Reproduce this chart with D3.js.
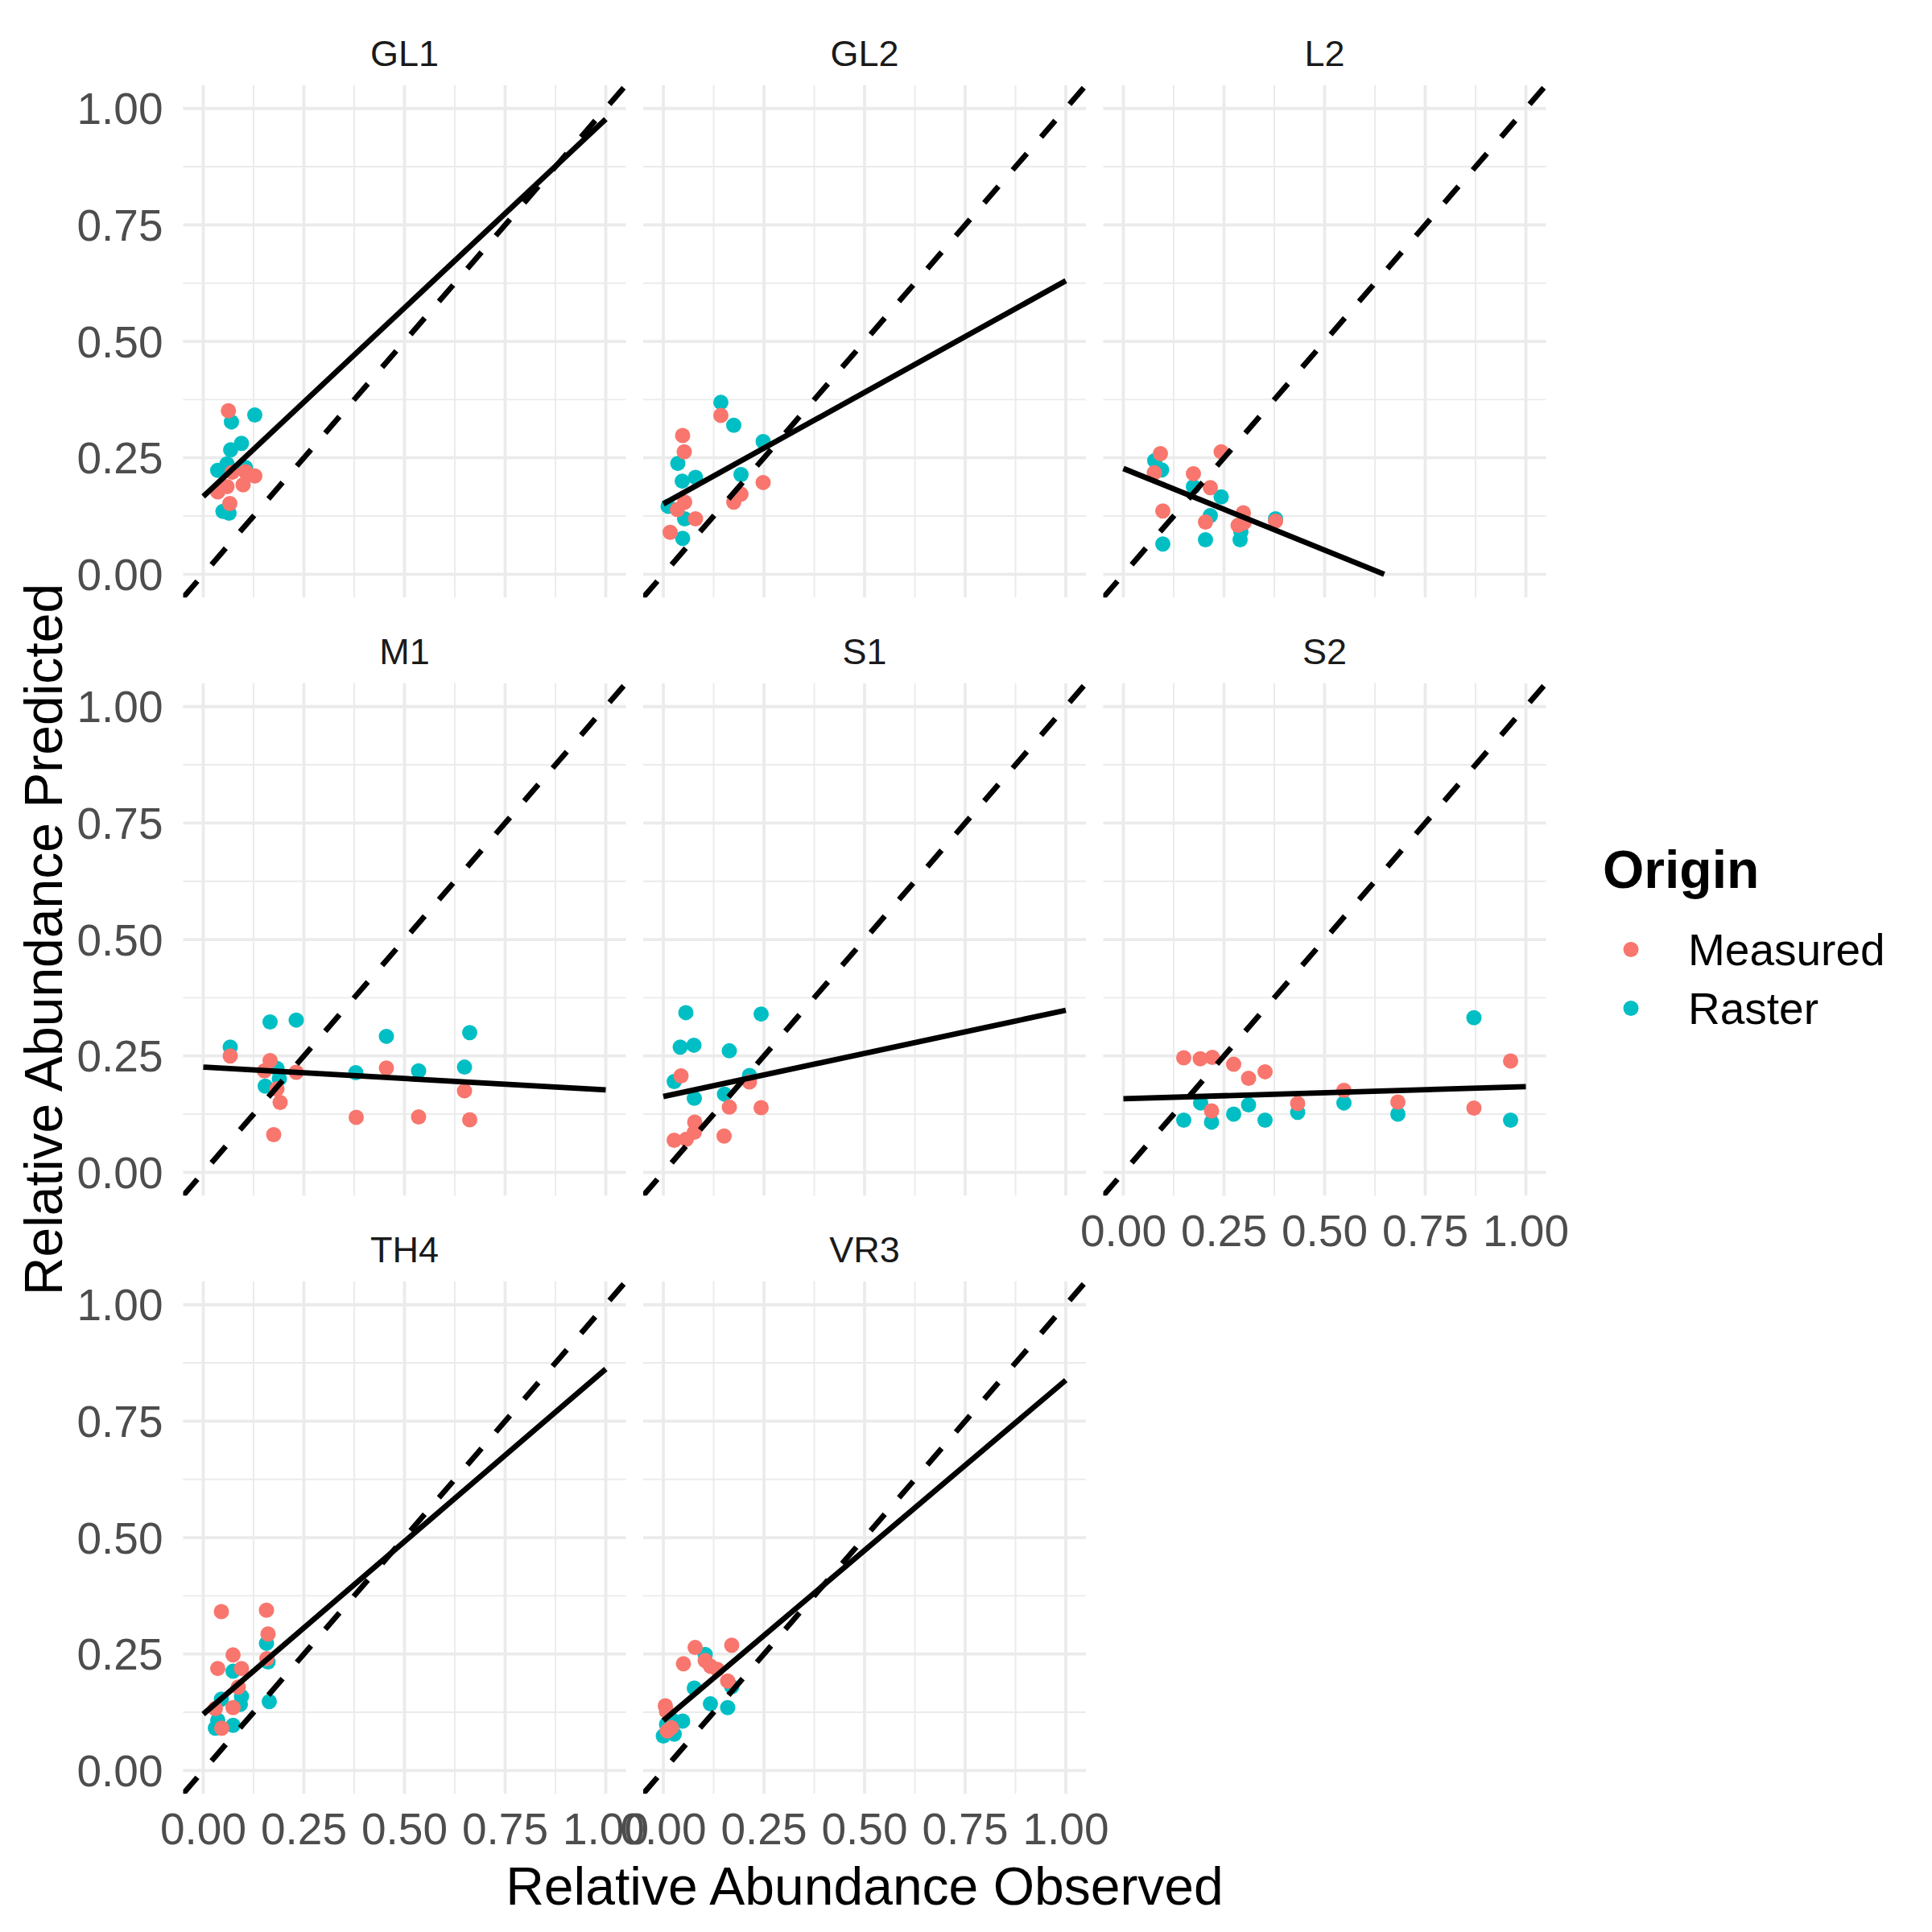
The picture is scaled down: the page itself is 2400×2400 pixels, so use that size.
<!DOCTYPE html>
<html><head><meta charset="utf-8">
<script src="https://cdn.jsdelivr.net/npm/d3@7"></script>
<style>body{margin:0;background:#fff}</style>
</head><body>
<svg id="chart" width="2400" height="2400" xmlns="http://www.w3.org/2000/svg"></svg>
<script>
// ---------------- data ----------------
const facets = ["GL1","GL2","L2","M1","S1","S2","TH4","VR3"];
const originLevels = ["Measured","Raster"];
const originColors = ["#F8766D","#00BFC4"];
const tickValues = [0, 0.25, 0.5, 0.75, 1];
const tickLabels = ["0.00","0.25","0.50","0.75","1.00"];
const minorValues = [0.125, 0.375, 0.625, 0.875];

// [observed, predicted]
const measuredGL1 = [[0.0625,0.351],[0.072,0.219],[0.105,0.220],[0.128,0.211],[0.099,0.192],[0.059,0.188],[0.036,0.177],[0.066,0.152]];
const rasterGL1   = [[0.128,0.342],[0.070,0.327],[0.095,0.281],[0.068,0.267],[0.059,0.237],[0.036,0.223],[0.105,0.229],[0.049,0.135],[0.064,0.131]];
const measuredGL2 = [[0.143,0.341],[0.048,0.298],[0.052,0.263],[0.248,0.197],[0.193,0.172],[0.175,0.155],[0.053,0.155],[0.035,0.139],[0.080,0.119],[0.017,0.090]];
const rasterGL2   = [[0.143,0.369],[0.175,0.320],[0.248,0.285],[0.036,0.238],[0.047,0.200],[0.080,0.208],[0.193,0.214],[0.012,0.146],[0.053,0.119],[0.048,0.077]];
const measuredL2  = [[0.092,0.259],[0.077,0.218],[0.174,0.216],[0.243,0.263],[0.216,0.186],[0.098,0.136],[0.204,0.112],[0.298,0.132],[0.285,0.105],[0.300,0.111],[0.378,0.114]];
const rasterL2    = [[0.078,0.244],[0.095,0.224],[0.174,0.188],[0.243,0.166],[0.216,0.126],[0.098,0.065],[0.204,0.074],[0.292,0.091],[0.290,0.074],[0.378,0.119]];
const measuredM1  = [[0.067,0.250],[0.166,0.240],[0.152,0.218],[0.231,0.215],[0.455,0.224],[0.649,0.175],[0.183,0.179],[0.191,0.150],[0.380,0.118],[0.535,0.119],[0.662,0.113],[0.175,0.081]];
const rasterM1    = [[0.166,0.323],[0.231,0.327],[0.067,0.269],[0.455,0.292],[0.662,0.300],[0.379,0.214],[0.535,0.218],[0.649,0.226],[0.183,0.223],[0.189,0.201],[0.154,0.185]];
const measuredS1  = [[0.044,0.207],[0.214,0.194],[0.164,0.140],[0.243,0.139],[0.078,0.108],[0.077,0.086],[0.057,0.071],[0.027,0.069],[0.151,0.078]];
const rasterS1    = [[0.056,0.343],[0.042,0.269],[0.076,0.273],[0.164,0.261],[0.243,0.340],[0.027,0.195],[0.077,0.159],[0.152,0.168],[0.214,0.208]];
const measuredS2  = [[0.150,0.246],[0.191,0.244],[0.221,0.247],[0.274,0.232],[0.311,0.202],[0.352,0.216],[0.219,0.132],[0.433,0.148],[0.548,0.176],[0.682,0.151],[0.871,0.138],[0.962,0.239]];
const rasterS2    = [[0.871,0.332],[0.192,0.149],[0.150,0.112],[0.219,0.108],[0.274,0.125],[0.311,0.145],[0.352,0.112],[0.433,0.129],[0.548,0.149],[0.682,0.125],[0.962,0.112]];
const measuredTH4 = [[0.045,0.341],[0.157,0.344],[0.161,0.293],[0.074,0.248],[0.036,0.219],[0.095,0.219],[0.158,0.240],[0.087,0.179],[0.030,0.133],[0.074,0.135],[0.046,0.091]];
const rasterTH4   = [[0.157,0.273],[0.161,0.233],[0.074,0.213],[0.045,0.153],[0.095,0.159],[0.092,0.142],[0.164,0.148],[0.036,0.108],[0.030,0.091],[0.074,0.097]];
const measuredVR3 = [[0.079,0.264],[0.170,0.269],[0.050,0.229],[0.104,0.236],[0.117,0.224],[0.134,0.217],[0.160,0.192],[0.005,0.139],[0.008,0.127],[0.020,0.092],[0.010,0.085]];
const rasterVR3   = [[0.104,0.249],[0.077,0.177],[0.170,0.180],[0.117,0.143],[0.160,0.135],[0.048,0.106],[0.023,0.108],[0.008,0.099],[0.007,0.080],[0.027,0.078],[0.000,0.074]];

// fitted (lm) line end points per facet
const fitX0 = [0, 0, 0, 0, 0, 0, 0, 0];
const fitY0 = [0.167, 0.151, 0.227, 0.226, 0.163, 0.158, 0.121, 0.107];
const fitX1 = [1, 1, 0.648, 1, 1, 1, 1, 1];
const fitY1 = [0.977, 0.630, 0.0, 0.177, 0.348, 0.184, 0.862, 0.838];

const measuredByFacet = [measuredGL1, measuredGL2, measuredL2, measuredM1, measuredS1, measuredS2, measuredTH4, measuredVR3];
const rasterByFacet   = [rasterGL1, rasterGL2, rasterL2, rasterM1, rasterS1, rasterS2, rasterTH4, rasterVR3];

// ---------------- layout ----------------
const FONT = "'Liberation Sans', Arial, Helvetica, sans-serif";
const colLeft = [227.5, 799, 1370.5];
const rowTop = [105.8, 848.8, 1591.8];
const PW = 550, PH = 636.5;
const GRID = "#EBEBEB";

const svg = d3.select("#chart");
svg.append("rect").attr("width", 2400).attr("height", 2400).attr("fill", "#fff");
const defs = svg.append("defs");

facets.forEach((name, i) => {
  const col = i % 3, row = Math.floor(i / 3);
  const left = colLeft[col], top = rowTop[row];
  const x = d3.scaleLinear().domain([-0.05, 1.05]).range([left, left + PW]);
  const y = d3.scaleLinear().domain([-0.05, 1.05]).range([top + PH, top]);
  const g = svg.append("g");
  const clipId = "clip" + i;
  defs.append("clipPath").attr("id", clipId).append("rect")
    .attr("x", left).attr("y", top).attr("width", PW).attr("height", PH);

  // minor grid
  g.selectAll(".mx").data(minorValues).enter().append("line")
    .attr("x1", d => x(d)).attr("x2", d => x(d)).attr("y1", top).attr("y2", top + PH)
    .attr("stroke", GRID).attr("stroke-width", 1.9);
  g.selectAll(".my").data(minorValues).enter().append("line")
    .attr("y1", d => y(d)).attr("y2", d => y(d)).attr("x1", left).attr("x2", left + PW)
    .attr("stroke", GRID).attr("stroke-width", 1.9);
  // major grid
  g.selectAll(".Mx").data(tickValues).enter().append("line")
    .attr("x1", d => x(d)).attr("x2", d => x(d)).attr("y1", top).attr("y2", top + PH)
    .attr("stroke", GRID).attr("stroke-width", 3.8);
  g.selectAll(".My").data(tickValues).enter().append("line")
    .attr("y1", d => y(d)).attr("y2", d => y(d)).attr("x1", left).attr("x2", left + PW)
    .attr("stroke", GRID).attr("stroke-width", 3.8);

  // points
  const pts = [];
  rasterByFacet[i].forEach(p => pts.push({o: 1, x: p[0], y: p[1]}));
  measuredByFacet[i].forEach(p => pts.push({o: 0, x: p[0], y: p[1]}));
  g.selectAll("circle").data(pts).enter().append("circle")
    .attr("cx", d => x(d.x)).attr("cy", d => y(d.y)).attr("r", 9.5)
    .attr("fill", d => originColors[d.o]);

  const lg = g.append("g").attr("clip-path", `url(#${clipId})`);
  // fitted line
  lg.append("line")
    .attr("x1", x(fitX0[i])).attr("y1", y(fitY0[i]))
    .attr("x2", x(fitX1[i])).attr("y2", y(fitY1[i]))
    .attr("stroke", "#000").attr("stroke-width", 6.8);
  // 1:1 line
  lg.append("line")
    .attr("x1", x(-0.05)).attr("y1", y(-0.05))
    .attr("x2", x(1.05)).attr("y2", y(1.05))
    .attr("stroke", "#000").attr("stroke-width", 6.8)
    .attr("stroke-dasharray", "27,27");

  // strip
  svg.append("text").attr("x", left + PW / 2).attr("y", top - 24)
    .attr("text-anchor", "middle").attr("font-family", FONT).attr("font-size", 45)
    .attr("fill", "#1A1A1A").text(name);

  // y axis labels on first column
  if (col === 0) {
    svg.append("g").selectAll("text").data(tickValues).enter().append("text")
      .attr("x", left - 25).attr("y", d => y(d) + 19.7)
      .attr("text-anchor", "end").attr("font-family", FONT).attr("font-size", 55)
      .attr("fill", "#4D4D4D").text((d, k) => tickLabels[k]);
  }
  // x axis labels on bottom-most panel of each column
  const lastInCol = (i + 3 >= facets.length);
  if (lastInCol) {
    svg.append("g").selectAll("text").data(tickValues).enter().append("text")
      .attr("x", d => x(d)).attr("y", top + PH + 63)
      .attr("text-anchor", "middle").attr("font-family", FONT).attr("font-size", 55)
      .attr("fill", "#4D4D4D").text((d, k) => tickLabels[k]);
  }
});

// axis titles
svg.append("text").attr("x", (colLeft[0] + colLeft[2] + PW) / 2).attr("y", 2366)
  .attr("text-anchor", "middle").attr("font-family", FONT).attr("font-size", 66)
  .attr("fill", "#000").text("Relative Abundance Observed");
const yMid = (rowTop[0] + rowTop[2] + PH) / 2;
svg.append("text").attr("transform", `translate(77,${yMid}) rotate(-90)`)
  .attr("text-anchor", "middle").attr("font-family", FONT).attr("font-size", 66)
  .attr("fill", "#000").text("Relative Abundance Predicted");

// legend
const leg = svg.append("g");
leg.append("text").attr("x", 1991).attr("y", 1103).attr("font-family", FONT)
  .attr("font-size", 66).attr("font-weight", "bold").attr("fill", "#000").text("Origin");
const legY = d3.scaleBand().domain(originLevels).range([1143, 1289]);
originLevels.forEach((lvl, k) => {
  const cy = legY(lvl) + legY.bandwidth() / 2;
  leg.append("circle").attr("cx", 2026).attr("cy", cy).attr("r", 9.5).attr("fill", originColors[k]);
  leg.append("text").attr("x", 2097).attr("y", cy + 19.7).attr("font-family", FONT)
    .attr("font-size", 55).attr("fill", "#000").text(lvl);
});
</script>
</body></html>
